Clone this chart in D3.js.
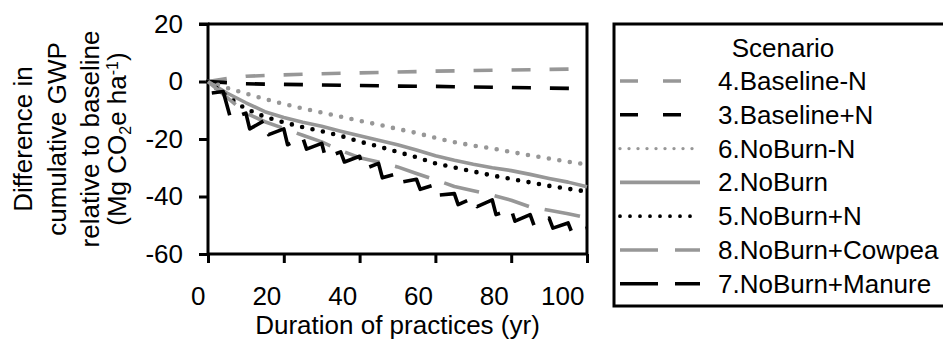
<!DOCTYPE html>
<html><head><meta charset="utf-8">
<script src="https://cdn.jsdelivr.net/npm/d3@7"></script>
<style>
body{margin:0;background:#fff;}
text{font-family:"Liberation Sans",Arial,sans-serif;fill:#000;}
</style></head>
<body><svg id="c" width="943" height="340"></svg>
<script>
// ---- data ----
const years = [0,5,10,15,20,25,30,35,40,45,50,55,60,65,70,75,80,85,90,95,100];
const baselineMinusN = [0,1.0,1.8,2.1,2.3,2.5,2.7,2.85,3.0,3.15,3.3,3.45,3.6,3.7,3.8,3.9,4.0,4.1,4.2,4.3,4.4];
const baselinePlusN  = [0,-0.4,-0.8,-0.9,-1.0,-1.1,-1.2,-1.3,-1.4,-1.5,-1.6,-1.65,-1.7,-1.8,-1.9,-2.0,-2.1,-2.2,-2.3,-2.4,-2.5];
const noBurnMinusN   = [0,-2.2,-4.2,-6.1,-7.8,-9.4,-10.8,-12.2,-13.7,-15.0,-16.5,-17.9,-19.6,-21.1,-22.3,-23.3,-24.5,-25.7,-26.8,-27.9,-28.9];
const noBurn         = [0,-4.0,-7.4,-10.5,-12.5,-14.2,-15.6,-17.3,-18.9,-20.4,-22.0,-23.8,-25.8,-27.4,-28.8,-30.0,-31.0,-32.3,-33.7,-35.0,-36.6];
const noBurnPlusN    = [0,-5.2,-9.5,-12.3,-14.2,-15.9,-17.3,-18.9,-20.9,-22.6,-24.5,-26.3,-28.5,-29.9,-31.3,-32.7,-33.9,-35.1,-36.3,-37.3,-38.3];
const noBurnCowpea   = [0,-5.5,-11.0,-14.0,-16.3,-18.7,-21.0,-24.0,-26.5,-28.0,-29.7,-32.0,-34.2,-36.5,-38.0,-39.5,-41.3,-43.6,-44.8,-46.0,-47.4];
const manureYears  = [1,4,6,10,11,15,16,20,21,25,26,30,31,35,36,40,41,45,46,50,51,55,56,60,61,65,66,70,71,75,76,80,81,85,86,90,91,95,96,100];
const noBurnManure = [-4,-3.5,-13,-11,-16.5,-13.5,-18.5,-16.5,-22,-19.5,-23.5,-21.5,-26.5,-24.5,-28,-26,-30.5,-28.5,-33.5,-32,-35,-34,-37.5,-35.8,-39.5,-39,-42.8,-40.5,-43.5,-41.2,-46.3,-44.5,-48.6,-46.3,-50,-47.5,-51,-49.2,-52.5,-51];
const xTicks = [0,20,40,60,80,100];
const yTicks = [-60,-40,-20,0,20];
const legendTitle = "Scenario";
const seriesNames = ["4.Baseline-N","3.Baseline+N","6.NoBurn-N","2.NoBurn","5.NoBurn+N","8.NoBurn+Cowpea","7.NoBurn+Manure"];

// ---- styles ----
const GRAY = "#979797";
const styles = [
  {c:GRAY,  d:"19,19", ld:"18,25", cap:"butt", w:3.6, lw:3.6},
  {c:"#000",d:"19,19", ld:"18,25", cap:"butt", w:3.6, lw:3.6},
  {c:GRAY,  d:"0,10.6", ld:"0,9", cap:"round", w:4.6, lw:3.4},
  {c:GRAY,  d:null, ld:null, cap:"butt", w:3.6, lw:3.6},
  {c:"#000",d:"0,10.6", ld:"0,10", cap:"round", w:4.6, lw:3.8},
  {c:GRAY,  d:"36,16", ld:"38,17", cap:"butt", w:3.6, lw:3.6},
  {c:"#000",d:"36,16", ld:"38,17", cap:"butt", w:3.6, lw:3.6}
];
const seriesData = [
  years.map((t,i)=>[t,baselineMinusN[i]]),
  years.map((t,i)=>[t,baselinePlusN[i]]),
  years.map((t,i)=>[t,noBurnMinusN[i]]),
  years.map((t,i)=>[t,noBurn[i]]),
  years.map((t,i)=>[t,noBurnPlusN[i]]),
  years.map((t,i)=>[t,noBurnCowpea[i]]),
  manureYears.map((t,i)=>[t,noBurnManure[i]])
];

const svg = d3.select("#c");
const x = d3.scaleLinear().domain([0,100]).range([208,587]);
const y = d3.scaleLinear().domain([-60,20]).range([254,24]);
const FS = 26;

// frame (top/right)
svg.append("path").attr("d",`M${x(0)},${y(20)}H${x(100)}V${y(-60)}`)
  .attr("fill","none").attr("stroke","#000").attr("stroke-width",3);

// axes
const fmt = d => String(d);
const ya = svg.append("g").attr("transform",`translate(${x(0)},0)`)
  .call(d3.axisLeft(y).tickValues(yTicks).tickSize(9).tickPadding(16).tickFormat(fmt));
const xa = svg.append("g").attr("transform",`translate(0,${y(-60)})`)
  .call(d3.axisBottom(x).tickValues(xTicks).tickSize(9).tickPadding(24).tickFormat(fmt));
[ya,xa].forEach(g=>{
  g.select(".domain").attr("stroke","#000").attr("stroke-width",3);
  g.selectAll(".tick line").attr("stroke","#000").attr("stroke-width",3);
  g.selectAll(".tick text").style("font-size",FS+"px").attr("fill","#000")
   .style("font-family",'"Liberation Sans",Arial,sans-serif');
});
ya.select(".domain").attr("d",`M-9,${y(20)}H0V${y(-60)}`);
xa.select(".domain").attr("d",`M${x(0)},0H${x(100)}`);
xa.selectAll(".tick text").attr("text-anchor","end").attr("x",-3);

// lines
const line = d3.line().x(d=>x(d[0])).y(d=>y(d[1]));
seriesData.forEach((s,i)=>{
  const st = styles[i];
  svg.append("path").datum(s).attr("d",line).attr("fill","none")
    .attr("stroke",st.c).attr("stroke-width",st.w)
    .attr("stroke-dasharray",st.d).attr("stroke-linecap",st.cap)
    .attr("stroke-linejoin","round");
});

// axis titles
svg.append("text").attr("x",(x(0)+x(100))/2).attr("y",334).attr("text-anchor","middle")
  .style("font-size",FS+"px").text("Duration of practices (yr)");
const yc = (y(20)+y(-60))/2;
const ylines = ["Difference in","cumulative GWP","relative to baseline"];
const ybase = [32,66,99];
ylines.forEach((t,i)=>{
  svg.append("text").attr("transform",`translate(${ybase[i]},${yc}) rotate(-90)`)
    .attr("text-anchor","middle").style("font-size",FS+"px").text(t);
});
const t4 = svg.append("text").attr("transform",`translate(126,${yc}) rotate(-90)`)
  .attr("text-anchor","middle").style("font-size",FS+"px");
t4.append("tspan").text("(Mg CO");
t4.append("tspan").attr("dy",5).style("font-size","16px").text("2");
t4.append("tspan").attr("dy",-5).text("e ha");
t4.append("tspan").attr("dy",-8).style("font-size","16px").text("-1");
t4.append("tspan").attr("dy",8).text(")");

// legend
svg.append("rect").attr("x",614).attr("y",24).attr("width",400).attr("height",282)
  .attr("fill","#fff").attr("stroke","#000").attr("stroke-width",3);
svg.append("text").attr("x",783).attr("y",57).attr("text-anchor","middle")
  .style("font-size",FS+"px").text(legendTitle);
seriesNames.forEach((n,i)=>{
  const by = 90 + i*33.8;
  const st = styles[i];
  svg.append("line").attr("x1",620).attr("x2",700).attr("y1",by-9).attr("y2",by-9)
    .attr("stroke",st.c).attr("stroke-width",st.lw)
    .attr("stroke-dasharray",st.ld).attr("stroke-linecap",st.cap);
  svg.append("text").attr("x",718).attr("y",by).style("font-size",FS+"px").text(n);
});
</script></body></html>
